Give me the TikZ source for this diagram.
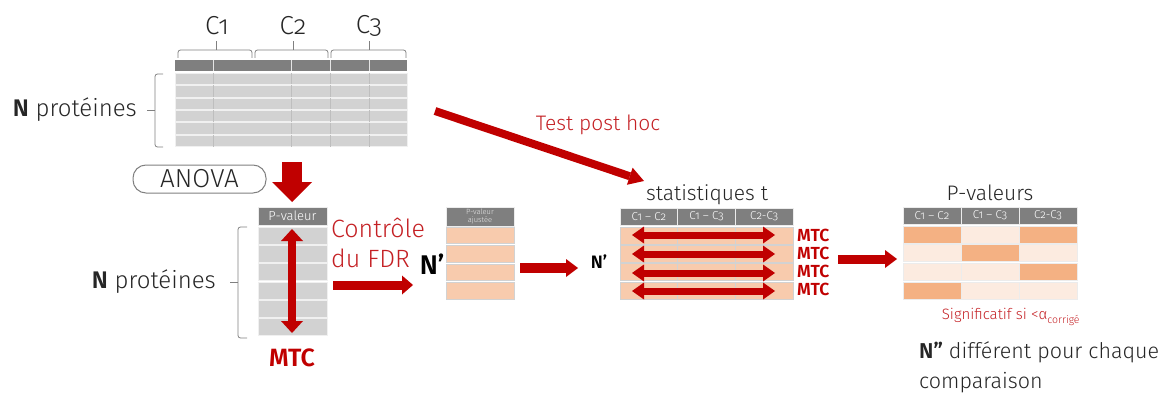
\documentclass[tikz,border=0pt]{standalone}
\usepackage{fontspec}
\setmainfont{Fira Sans}[UprightFont=* Light, BoldFont=* SemiBold, Numbers=OldStyle]
\usetikzlibrary{arrows.meta}
\definecolor{dred}{RGB}{192,0,0}
\definecolor{tred}{RGB}{196,32,36}
\definecolor{hgray}{RGB}{127,127,127}
\definecolor{cgray}{RGB}{210,210,210}
\definecolor{lgrid}{RGB}{190,190,190}
\definecolor{peach}{RGB}{248,203,173}
\definecolor{dorange}{RGB}{244,177,131}
\definecolor{lorange}{RGB}{252,235,224}
\definecolor{bgray}{RGB}{128,128,128}
\definecolor{ink}{RGB}{38,38,38}
\newcommand{\fsz}[1]{\fontsize{#1}{#1}\selectfont}
\begin{document}
\begin{tikzpicture}[x=1pt,y=-1pt,
  brace/.style={draw=bgray, line width=0.8pt, rounded corners=2.5pt},
  txt/.style={inner sep=0pt, text=ink},
  hcell/.style={fill=hgray, draw=white!85!gray, line width=0.6pt},
  gcell/.style={fill=cgray, draw=white!88!gray, line width=0.5pt},
  pcell/.style={fill=peach, draw=gray!35, line width=0.5pt},
  dcell/.style={fill=dorange, draw=white!85!gray, line width=0.5pt},
  lcell/.style={fill=lorange, draw=white!85!gray, line width=0.5pt},
  tabbox/.style={inner sep=0pt, anchor=north west},
  mtcsmall/.style={anchor=west, inner sep=0pt, font=\fsz{17.5}\bfseries, text=dred}
]
\useasboundingbox (0,0) rectangle (1163,396);

% ---------- top table ----------
\node[txt, font=\fsz{26}] (c1) at (217,26) {C1};
\node[txt, font=\fsz{26}] (c2) at (293,26) {C2};
\node[txt, font=\fsz{26}] (c3) at (369,26) {C3};
\draw[brace] (178,58) -- (178,50) -- (252,50) -- (252,58);
\draw[brace] (216,50) -- (216,41);
\draw[brace] (255,58) -- (255,50) -- (328,50) -- (328,58);
\draw[brace] (293,50) -- (293,41);
\draw[brace] (331,58) -- (331,50) -- (406,50) -- (406,58);
\draw[brace] (369,50) -- (369,41);

\node[tabbox, minimum width=232pt, minimum height=87pt] (toptab) at (175,60) {};
\fill[hgray] (175,60) rectangle (407,71);
\foreach \x in {213,291,330,369} \draw[white!80!gray, line width=0.8pt] (\x,60) -- (\x,71);
\foreach \i in {0,...,5} {
  \filldraw[gcell] (175,{73+\i*12.4}) rectangle (407,{84.5+\i*12.4});
  \foreach \x in {213,291,330,369} \draw[lgrid, line width=0.8pt] (\x,{73+\i*12.4}) -- (\x,{84.5+\i*12.4});
}
\draw[brace] (163,74) -- (155,74) -- (155,147) -- (163,147);
\draw[brace] (155,110) -- (147,110);
\node[txt, anchor=east, font=\fsz{24}] (np1) at (137,110) {\textbf{N} protéines};

% ---------- ANOVA ----------
\node[draw=bgray, line width=1pt, rounded corners=13pt, minimum width=133pt, minimum height=28pt, inner sep=0pt, font=\fsz{26}, text=ink] (anova) at (199.5,179) {ANOVA};
\coordinate (dnS) at (292,162);
\coordinate (dnE) at (292,202);
\draw[dred, line width=20pt, -{Triangle[length=20pt 0 0,width=40pt 0 0,line width=0pt 0 0]}] (dnS) -- (dnE);

% ---------- P-valeur table ----------
\node[tabbox, minimum width=69pt, minimum height=130pt] (pvtab) at (258,207) {};
\filldraw[hcell] (258,207) rectangle (327,225);
\node[font=\fsz{13}, text=white, inner sep=0pt] (pvh) at (292.5,216) {P-valeur};
\foreach \i in {0,...,5} \filldraw[gcell] (258,{227+\i*18.3}) rectangle (327,{244+\i*18.3});
\coordinate (vA) at (292,229);
\coordinate (vB) at (292,333);
\draw[dred, line width=8pt, {Triangle[length=12pt 0 0,width=22pt 0 0,line width=0pt 0 0]}-{Triangle[length=12pt 0 0,width=22pt 0 0,line width=0pt 0 0]}] (vA) -- (vB);
\draw[brace] (247,227) -- (238,227) -- (238,338) -- (247,338);
\draw[brace] (238,282) -- (230,282);
\node[txt, anchor=east, font=\fsz{24}] (np2) at (216,282) {\textbf{N} protéines};
\node[font=\fsz{25}\bfseries, text=dred, inner sep=0pt] (mtc0) at (292,358) {MTC};

% ---------- FDR ----------
\node[anchor=west, align=left, inner sep=0pt, font=\fontsize{25}{30}\selectfont, text=tred] (fdr) at (331,243) {Contrôle\\du FDR};
\coordinate (fA) at (333,285);
\coordinate (fB) at (413,285);
\draw[dred, line width=9pt, -{Triangle[length=11pt 0 0,width=19pt 0 0,line width=0pt 0 0]}] (fA) -- (fB);
\node[font=\fsz{27}\bfseries, text=black, inner sep=0pt] (nprimeA) at (432,264) {N’};

% ---------- adjusted table ----------
\node[tabbox, minimum width=68pt, minimum height=92pt] (adjtab) at (446,207) {};
\filldraw[hcell] (446,207) rectangle (514,226);
\node[font=\fontsize{7.5}{8}\selectfont, text=white!80!gray, align=center, inner sep=0pt] (adjh) at (480,216.5) {P-valeur\\ajustée};
\foreach \i in {0,...,3} \filldraw[pcell] (446,{227+\i*18.5}) rectangle (514,{243.5+\i*18.5});
\coordinate (gA) at (520,268);
\coordinate (gB) at (578,268);
\draw[dred, line width=10pt, -{Triangle[length=12pt 0 0,width=18pt 0 0,line width=0pt 0 0]}] (gA) -- (gB);
\node[font=\fsz{18}\bfseries, text=black, inner sep=0pt] (nprimeB) at (599,262) {N’};

% ---------- Test post hoc ----------
\coordinate (tA) at (435,111);
\coordinate (tB) at (644,181);
\draw[dred, line width=8pt, -{Triangle[length=15pt 0 0,width=18pt 0 0,line width=0pt 0 0]}] (tA) -- (tB);
\node[font=\fsz{21}, text=tred, inner sep=0pt] (tph) at (598,125) {Test post hoc};

% ---------- statistiques t ----------
\node[txt, font=\fsz{21}] (stt) at (707,195) {statistiques t};
\node[tabbox, minimum width=173pt, minimum height=91pt] (sttab) at (620,208) {};
\foreach \a/\b/\l [count=\k] in {620/677.7/{C1 – C2},677.7/735.3/{C1 – C3},735.3/793/{C2-C3}} {
  \filldraw[hcell] (\a,208) rectangle (\b,225);
  \node[font=\fsz{11.5}, text=white, inner sep=0pt] (sth\k) at ({(\a+\b)/2},216.5) {\l};
  \foreach \i in {0,...,3} \filldraw[pcell] (\a,{227+\i*18.3}) rectangle (\b,{244+\i*18.3});
}
\foreach \y [count=\k] in {235,254,273,291} {
  \coordinate (hA\k) at (632,\y);
  \coordinate (hB\k) at (775,\y);
  \draw[dred, line width=7pt, {Triangle[length=12pt 0 0,width=17pt 0 0,line width=0pt 0 0]}-{Triangle[length=12pt 0 0,width=17pt 0 0,line width=0pt 0 0]}] (hA\k) -- (hB\k);
}
\node[mtcsmall] (m1) at (797,235) {MTC};
\node[mtcsmall] (m2) at (797,253) {MTC};
\node[mtcsmall] (m3) at (797,271) {MTC};
\node[mtcsmall] (m4) at (797,289) {MTC};
\coordinate (kA) at (838,259);
\coordinate (kB) at (897,259);
\draw[dred, line width=9pt, -{Triangle[length=12pt 0 0,width=18pt 0 0,line width=0pt 0 0]}] (kA) -- (kB);

% ---------- P-valeurs ----------
\node[txt, font=\fsz{21}] (pvs) at (990,193) {P-valeurs};
\node[tabbox, minimum width=174pt, minimum height=92pt] (pvstab) at (903,207) {};
\foreach \a/\b/\l [count=\k] in {903/961/{C1 – C2},961/1019/{C1 – C3},1019/1077/{C2-C3}} {
  \filldraw[hcell] (\a,207) rectangle (\b,224);
  \node[font=\fsz{11.5}, text=white, inner sep=0pt] (pvsh\k) at ({(\a+\b)/2},215.5) {\l};
}
\foreach \c/\r/\s in {1/1/dcell,2/1/lcell,3/1/dcell,
                      1/2/lcell,2/2/dcell,3/2/lcell,
                      1/3/lcell,2/3/lcell,3/3/dcell,
                      1/4/dcell,2/4/lcell,3/4/lcell}
  \filldraw[\s] ({903+(\c-1)*58},{226+(\r-1)*18.6}) rectangle ({903+\c*58},{243+(\r-1)*18.6});
\node[font=\fsz{15}, text=tred, inner sep=0pt] (sig) at (1011,317) {Significatif si <α\textsubscript{corrigé}};
\node[anchor=west, align=left, inner sep=0pt, font=\fontsize{21.5}{30}\selectfont, text=ink] (ndd) at (919,367) {\textbf{N”} différent pour chaque\\comparaison};
\end{tikzpicture}
\end{document}
